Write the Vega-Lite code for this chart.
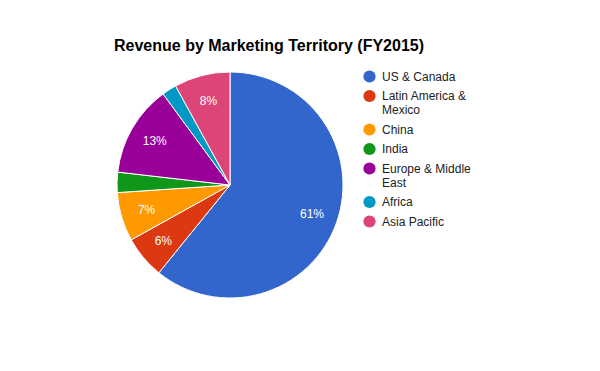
{
  "$schema": "https://vega.github.io/schema/vega-lite/v6.json",
  "autosize": {"type": "none"},
  "padding": {"left": 117, "top": 72, "right": 257, "bottom": 73},
  "width": 226,
  "height": 226,
  "background": "white",
  "title": {
    "text": "Revenue by Marketing Territory (FY2015)",
    "anchor": "start",
    "font": "Liberation Sans",
    "fontSize": 16,
    "fontWeight": "bold",
    "color": "#000000",
    "baseline": "alphabetic",
    "offset": 3,
    "dx": -1
  },
  "data": {
    "values": [
      {"territory": "US & Canada", "share": 0.609, "order": 1},
      {"territory": "Latin America & Mexico", "share": 0.061, "order": 2},
      {"territory": "China", "share": 0.070, "order": 3},
      {"territory": "India", "share": 0.029, "order": 4},
      {"territory": "Europe & Middle East", "share": 0.131, "order": 5},
      {"territory": "Africa", "share": 0.021, "order": 6},
      {"territory": "Asia Pacific", "share": 0.080, "order": 7}
    ]
  },
  "encoding": {
    "theta": {"field": "share", "type": "quantitative", "stack": true},
    "order": {"field": "order", "type": "quantitative"}
  },
  "layer": [
    {
      "mark": {"type": "arc", "stroke": "white", "strokeWidth": 1},
      "encoding": {
        "color": {
          "field": "territory",
          "type": "nominal",
          "sort": ["US & Canada", "Latin America & Mexico", "China", "India", "Europe & Middle East", "Africa", "Asia Pacific"],
          "scale": {
            "domain": ["US & Canada", "Latin America & Mexico", "China", "India", "Europe & Middle East", "Africa", "Asia Pacific"],
            "range": ["#3366cc", "#dc3912", "#ff9900", "#109618", "#990099", "#0099c6", "#dd4477"]
          },
          "legend": {
            "title": null,
            "orient": "none",
            "legendX": 246,
            "legendY": -2,
            "padding": 0,
            "symbolType": "circle",
            "symbolSize": 150,
            "symbolStrokeWidth": 0,
            "labelFont": "Liberation Sans",
            "labelFontSize": 12,
            "labelColor": "#222222",
            "labelOffset": 6,
            "labelLimit": 200,
            "labelLineHeight": 16,
            "labelExpr": "datum.label == 'Latin America & Mexico' ? ['Latin America &', 'Mexico'] : datum.label == 'Europe & Middle East' ? ['Europe & Middle', 'East'] : datum.label",
            "rowPadding": 6.5
          }
        }
      }
    },
    {
      "mark": {"type": "text", "radius": 87, "font": "Liberation Sans", "fontSize": 12, "color": "white"},
      "encoding": {
        "text": {
          "condition": {"test": "datum.share < 0.05", "value": ""},
          "field": "share", "type": "quantitative", "format": ".0%"
        }
      }
    }
  ]
}
